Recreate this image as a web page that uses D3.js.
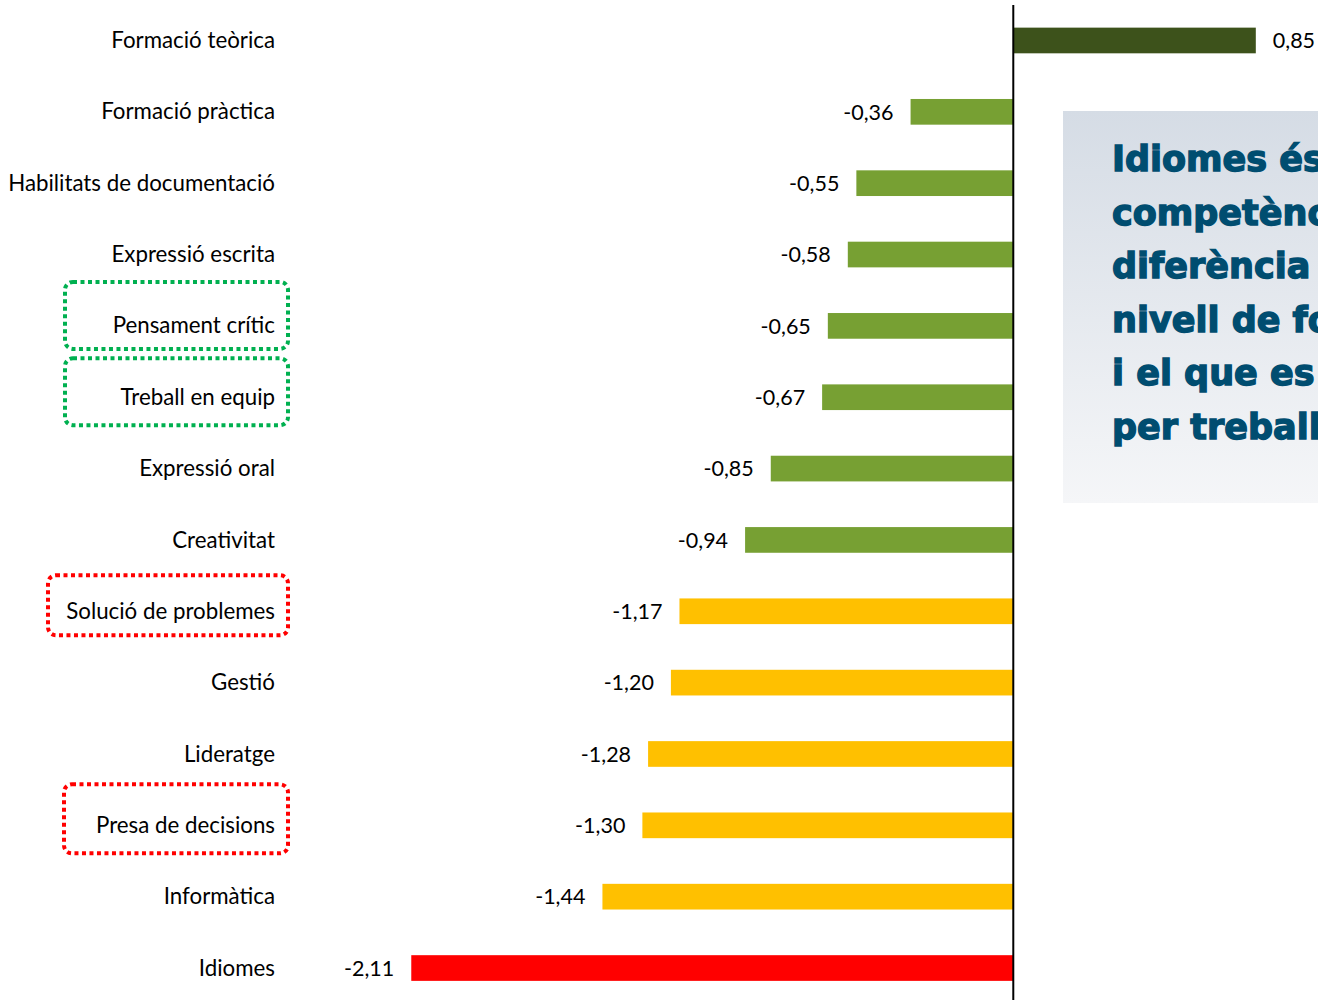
<!DOCTYPE html>
<html><head><meta charset="utf-8">
<script src="https://cdn.jsdelivr.net/npm/d3@7"></script>
<style>body{margin:0;background:#fff;overflow:hidden}svg{display:block}</style>
</head><body>
<svg id="c" width="1318" height="1000"></svg>
<script>
const categories = ["Formació teòrica","Formació pràctica","Habilitats de documentació","Expressió escrita","Pensament crític","Treball en equip","Expressió oral","Creativitat","Solució de problemes","Gestió","Lideratge","Presa de decisions","Informàtica","Idiomes"];
const values = [0.85,-0.36,-0.55,-0.58,-0.65,-0.67,-0.85,-0.94,-1.17,-1.20,-1.28,-1.30,-1.44,-2.11];
const groups = ["pos","mid","mid","mid","mid","mid","mid","mid","low","low","low","low","low","worst"];
const highlightCats = ["Pensament crític","Treball en equip","Solució de problemes","Presa de decisions"];
const highlightKinds = ["good","good","bad","bad"];
const noteLines = ["Idiomes és la","competència amb més","diferència entre el","nivell de formació","i el que es necessita","per treballar"];

const svg = d3.select("#c");
const x = d3.scaleLinear().domain([-2.5, 1]).range([300, 1298.6]);
const y = d3.scaleBand().domain(categories).range([4.8, 1003.7]).paddingInner(0.64).paddingOuter(0.32);
const color = d3.scaleOrdinal().domain(["pos","mid","low","worst"]).range(["#3d521b","#77a033","#ffc000","#ff0000"]);
const boxColor = d3.scaleOrdinal().domain(["good","bad"]).range(["#00b050","#ff0000"]);
const fmt = v => d3.format(".2f")(v).replace(".", ",").replace("\u2212", "-");
const data = categories.map((c,i)=>({c, v: values[i], g: groups[i]}));

// note box
const defs = svg.append("defs");
const grad = defs.append("linearGradient").attr("id","g").attr("x1",0).attr("y1",0).attr("x2",0).attr("y2",1);
grad.append("stop").attr("offset","0%").attr("stop-color","#d5dce5");
grad.append("stop").attr("offset","100%").attr("stop-color","#f5f6f8");
svg.append("rect").attr("x",1063).attr("y",111).attr("width",300).attr("height",392).attr("fill","url(#g)");
svg.append("g").selectAll("text").data(noteLines).join("text")
  .attr("x",1112).attr("y",(d,i)=>171+i*53.6)
  .attr("font-family","'DejaVu Sans', sans-serif").attr("font-weight","bold").attr("font-size",35)
  .attr("fill","#004d70").attr("stroke","#004d70").attr("stroke-width",1.4)
  .text(d=>d);

// bars
svg.append("g").selectAll("rect").data(data).join("rect")
  .attr("x", d=>x(Math.min(0,d.v)))
  .attr("width", d=>Math.abs(x(d.v)-x(0)))
  .attr("y", d=>y(d.c)).attr("height", y.bandwidth())
  .attr("fill", d=>color(d.g));

// axis line
svg.append("line").attr("x1",x(0)).attr("x2",x(0)).attr("y1",5).attr("y2",1000).attr("stroke","#000").attr("stroke-width",2);

// value labels
svg.append("g").selectAll("text").data(data).join("text")
  .attr("x", d=> d.v<0 ? x(d.v)-17 : x(d.v)+17)
  .attr("y", d=>y(d.c)+y.bandwidth()/2).attr("dy","0.36em")
  .attr("text-anchor", d=> d.v<0 ? "end":"start")
  .attr("font-family","Lato, 'Open Sans', sans-serif").attr("font-size",21.5).attr("fill","#000")
  .text(d=>fmt(d.v));

// category labels
const yAxis = d3.axisLeft(y).tickSize(0).tickPadding(0);
const ag = svg.append("g").attr("transform","translate(275,0)").call(yAxis);
ag.select(".domain").remove();
ag.selectAll("text").attr("font-family","Lato, 'Open Sans', sans-serif").attr("font-size",22.3).attr("fill","#000").attr("dy","0.34em");

// highlight boxes
const boxLeft = {"Pensament crític":65,"Treball en equip":65,"Solució de problemes":48,"Presa de decisions":64};
const boxOff = {"Pensament crític":[-44,23],"Treball en equip":[-39,28],"Solució de problemes":[-36,24],"Presa de decisions":[-41,28]};
svg.append("g").selectAll("rect").data(highlightCats.map((c,i)=>({c,k:highlightKinds[i]}))).join("rect")
  .attr("x", d=>boxLeft[d.c]).attr("width", d=>288-boxLeft[d.c])
  .attr("y", d=>y(d.c)+y.bandwidth()/2+boxOff[d.c][0])
  .attr("height", d=>boxOff[d.c][1]-boxOff[d.c][0])
  .attr("rx",8).attr("fill","none").attr("stroke",d=>boxColor(d.k))
  .attr("stroke-width",4).attr("stroke-dasharray","4 3.5");
</script>
</body></html>
